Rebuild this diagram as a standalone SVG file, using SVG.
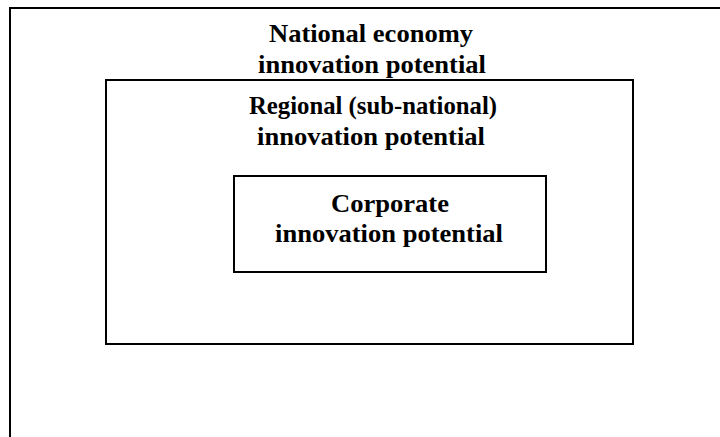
<svg xmlns="http://www.w3.org/2000/svg" width="720" height="437" viewBox="0 0 720 437">
<style>
.box{fill:none;stroke:#000;stroke-width:2}
.t{font-family:"Liberation Serif","Times New Roman",serif;font-weight:bold;font-size:26px;fill:#000;text-anchor:middle}
</style>
<rect width="720" height="437" fill="#fff"/>
<g id="national">
<path class="box" d="M720,8 H10 V437"/>
<text class="t" x="371" y="42" textLength="204" lengthAdjust="spacingAndGlyphs">National economy</text>
<text class="t" x="372" y="73" textLength="228" lengthAdjust="spacingAndGlyphs">innovation potential</text>
</g>
<g id="regional">
<rect class="box" x="106" y="80" width="527" height="264"/>
<text class="t" x="373" y="114" textLength="248" lengthAdjust="spacingAndGlyphs">Regional (sub-national)</text>
<text class="t" x="371" y="145" textLength="228" lengthAdjust="spacingAndGlyphs">innovation potential</text>
</g>
<g id="corporate">
<rect class="box" x="234" y="176" width="312" height="96"/>
<text class="t" x="390" y="212" textLength="118" lengthAdjust="spacingAndGlyphs">Corporate</text>
<text class="t" x="389" y="242" textLength="228" lengthAdjust="spacingAndGlyphs">innovation potential</text>
</g>
<g id="connectors"></g>
</svg>
